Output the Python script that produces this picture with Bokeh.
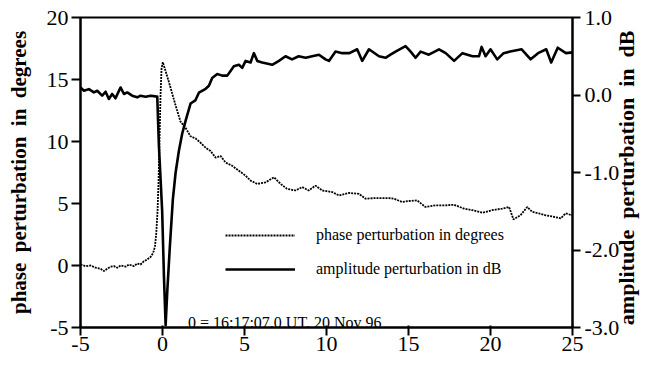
import math
from bokeh.plotting import figure
from bokeh.models import (Range1d, LinearAxis, FixedTicker, PrintfTickFormatter,
                          Legend, LegendItem, Label)
from bokeh.embed import file_html
from bokeh.resources import INLINE

# time axis (s relative to 16:17:07.0 UT)
x_ticks = [-5, 0, 5, 10, 15, 20, 25]
phase_ticks = [-5, 0, 5, 10, 15, 20]
amp_ticks = [-3.0, -2.0, -1.0, 0.0, 1.0]

phase_x = [-5.0, -4.69, -4.39, -4.08, -3.78, -3.57, -3.37, -3.17, -2.96, -2.76,
           -2.56, -2.25, -2.05, -1.74, -1.54, -1.34, -1.13, -0.93, -0.73, -0.57,
           -0.46, -0.38, -0.30, -0.24, -0.18, -0.12, -0.06, 0.02, 0.39, 0.8,
           1.1, 1.41, 1.71, 2.02, 2.32, 2.63, 2.93, 3.24, 3.54, 3.85,
           4.25, 4.66, 5.07, 5.37, 5.78, 6.29, 6.8, 7.2, 7.6, 8.11,
           8.52, 8.92, 9.33, 9.74, 10.35, 10.76, 11.37, 11.98, 12.38, 12.99,
           13.8, 14.1, 14.62, 15.0, 15.53, 16.03, 16.65, 17.26, 17.77, 18.38,
           18.89, 19.5, 20.1, 20.72, 21.13, 21.4, 21.83, 22.24, 22.54, 22.95,
           23.36, 23.87, 24.28, 24.58, 25.0]
phase_deg = [0.08, -0.05, 0.0, -0.18, -0.26, -0.45, -0.26, -0.10, -0.05, -0.18,
             0.0, -0.10, 0.08, -0.05, 0.16, 0.08, 0.35, 0.48, 0.69, 1.01,
             1.54, 2.6, 4.46, 6.85, 10.3, 13.74, 15.86, 16.4, 14.8, 12.9,
             11.6, 11.09, 10.42, 10.24, 9.9, 9.5, 9.23, 8.7, 8.83, 8.3,
             8.04, 7.64, 7.24, 6.84, 6.58, 6.71, 7.11, 6.58, 6.18, 6.05,
             6.32, 6.05, 6.44, 6.05, 5.92, 5.65, 5.85, 5.78, 5.39, 5.44,
             5.44, 5.39, 5.12, 5.2, 5.25, 4.72, 4.85, 4.85, 4.9, 4.59,
             4.46, 4.25, 4.46, 4.59, 4.72, 3.72, 4.05, 4.72, 4.33, 4.2,
             4.05, 3.93, 3.8, 4.2, 4.05]

amp_x = [-5.0, -4.79, -4.49, -4.18, -3.98, -3.68, -3.47, -3.27, -3.07, -2.87,
         -2.56, -2.35, -2.15, -1.85, -1.54, -1.34, -1.03, -0.73, -0.42, -0.32,
         -0.22, -0.02, 0.09, 0.19, 0.3, 0.45, 0.63, 0.8, 1.0, 1.2,
         1.41, 1.71, 2.0, 2.22, 2.63, 2.83, 3.03, 3.34, 3.64, 3.95,
         4.15, 4.35, 4.66, 4.86, 5.07, 5.37, 5.57, 5.78, 6.08, 6.69,
         7.1, 7.5, 7.9, 8.3, 8.73, 9.13, 9.54, 9.94, 10.15, 10.55,
         10.96, 11.4, 11.87, 12.18, 12.59, 13.2, 13.6, 13.9, 14.21, 14.82,
         15.13, 15.43, 15.74, 16.24, 16.86, 17.27, 17.78, 18.29, 18.9, 19.3,
         19.46, 19.7, 20.0, 20.41, 20.8, 21.2, 21.9, 22.45, 22.9, 23.4,
         23.7, 24.1, 24.6, 25.0]
amp_db = [0.097, 0.055, 0.076, 0.033, 0.055, -0.009, 0.042, -0.051, 0.013, -0.043,
          0.097, 0.013, 0.033, -0.009, -0.030, -0.009, -0.022, -0.009, -0.018, -0.02,
          -0.65, -1.5, -2.35, -2.97, -2.5, -1.95, -1.35, -1.0, -0.72, -0.5,
          -0.33, -0.11, -0.07, 0.03, 0.08, 0.12, 0.22, 0.27, 0.25, 0.25,
          0.31, 0.37, 0.39, 0.35, 0.44, 0.42, 0.54, 0.44, 0.42, 0.39,
          0.44, 0.50, 0.46, 0.50, 0.48, 0.50, 0.52, 0.46, 0.44, 0.56,
          0.54, 0.54, 0.59, 0.44, 0.59, 0.50, 0.48, 0.52, 0.56, 0.63,
          0.56, 0.48, 0.56, 0.52, 0.59, 0.54, 0.44, 0.54, 0.50, 0.50,
          0.62, 0.50, 0.59, 0.46, 0.54, 0.56, 0.59, 0.46, 0.54, 0.59,
          0.42, 0.61, 0.54, 0.55]

phase_label = "phase perturbation in degrees"
amp_label = "amplitude perturbation in dB"
time_note = "0 = 16:17:07.0 UT, 20 Nov 96"

SERIF = "Liberation Serif"
NB = "\u00a0\u00a0"

p = figure(frame_width=492, frame_height=310,
           x_range=Range1d(-5, 25), y_range=Range1d(-5, 20),
           output_backend="svg", toolbar_location=None,
           min_border_left=80, min_border_right=70,
           min_border_top=17, min_border_bottom=29)
p.extra_y_ranges = {"amp": Range1d(-3, 1)}
p.xgrid.visible = False
p.ygrid.visible = False
p.outline_line_color = "black"
p.outline_line_width = 2
p.background_fill_color = "white"
p.border_fill_color = "white"

def style_axis(ax, ticks, fmt, tick_in, tick_out, standoff):
    ax.ticker = FixedTicker(ticks=ticks)
    ax.formatter = PrintfTickFormatter(format=fmt)
    ax.minor_tick_line_color = None
    ax.major_tick_in = tick_in
    ax.major_tick_out = tick_out
    ax.major_tick_line_width = 2
    ax.major_tick_line_color = "black"
    ax.axis_line_width = 2
    ax.axis_line_color = "black"
    ax.major_label_text_font = SERIF
    ax.major_label_text_font_size = "22px"
    ax.major_label_text_color = "black"
    ax.major_label_standoff = standoff
    ax.axis_label_text_font = SERIF
    ax.axis_label_text_font_style = "bold"
    ax.axis_label_text_color = "black"

xa = p.xaxis[0]
style_axis(xa, x_ticks, "%d", 2, 8, 1)

ya = p.yaxis[0]
style_axis(ya, phase_ticks, "%d", 0, 9, 3)
ya.axis_label = NB.join(phase_label.split(" "))
ya.axis_label_text_font_size = "21px"
ya.axis_label_standoff = 13

ra = LinearAxis(y_range_name="amp")
style_axis(ra, amp_ticks, "%.1f", 0, 8, 4)
p.add_layout(ra, "right")

# right-hand title, reading bottom-to-top: a bare axis whose single tick label
# starts at the lower end of the title's extent
title_start = -2.97
rt = LinearAxis(y_range_name="amp", ticker=FixedTicker(ticks=[title_start]),
                major_label_overrides={title_start: NB.join(amp_label.split(" "))},
                major_label_orientation=math.pi / 2,
                axis_line_color=None, major_tick_line_color=None,
                minor_tick_line_color=None, major_tick_in=0, major_tick_out=0,
                major_label_standoff=4,
                major_label_text_font=SERIF, major_label_text_font_style="bold",
                major_label_text_font_size="22px", major_label_text_color="black")
p.add_layout(rt, "right")

r_phase = p.line(phase_x, phase_deg, line_color="black", line_width=1.8,
                 line_dash="2 1")
r_amp = p.line(amp_x, amp_db, y_range_name="amp", line_color="black",
               line_width=2.6, line_join="round")

legend = Legend(items=[LegendItem(label=phase_label, renderers=[r_phase]),
                       LegendItem(label=amp_label, renderers=[r_amp])],
                location=(145, 48), orientation="vertical",
                glyph_width=70, glyph_height=20, label_height=20,
                label_standoff=21, spacing=14, padding=0, margin=0,
                border_line_alpha=0, background_fill_alpha=0,
                label_text_font=SERIF, label_text_font_size="16px",
                label_text_color="black")
p.add_layout(legend)

p.add_layout(Label(x=1.55, y=-4.56, text=time_note, text_font=SERIF,
                   text_font_size="16px", text_color="black",
                   text_baseline="alphabetic"))

open("out.html", "w").write(file_html(p, INLINE))
